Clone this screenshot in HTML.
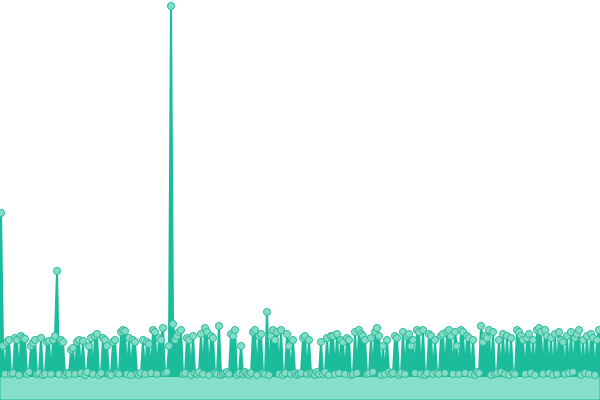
<!DOCTYPE html>
<html><head><meta charset="utf-8"><style>
html,body{margin:0;padding:0;background:#fff;width:600px;height:400px;overflow:hidden}
svg{display:block}
</style></head><body>
<svg id="chart" width="600" height="400" viewBox="0 0 600 400" xmlns="http://www.w3.org/2000/svg">
<g id="base"></g>
<g id="series"></g>
</svg>
<script>
const values = [
163,30,2,34,36,2,3,38,36,1,40,38,37,2,4,30,33,36,2,3,
38,1,2,34,35,2,36,40,105,2,36,34,1,3,2,26,28,2,34,36,
3,35,1,4,30,38,2,40,42,1,3,38,36,30,2,1,34,36,3,2,
44,46,45,2,38,1,36,34,2,1,3,36,2,34,32,3,46,44,2,38,
36,48,3,4,30,370,52,36,40,44,46,2,3,38,36,1,40,3,2,4,
42,2,48,44,1,40,38,3,2,50,1,2,3,4,2,42,40,46,1,3,
30,2,4,2,1,3,44,46,1,40,42,3,2,64,1,40,46,36,44,2,
46,1,3,42,30,2,36,3,1,2,3,38,40,2,36,3,2,1,4,2,
34,2,4,38,1,40,40,2,42,3,36,34,2,38,36,1,2,44,3,46,
42,40,36,2,3,38,4,44,48,40,1,30,2,36,4,2,3,40,38,1,
3,44,2,40,42,30,36,3,46,44,2,46,1,3,42,40,2,36,3,2,
40,42,3,44,46,40,2,44,30,2,46,44,3,40,38,2,36,1,4,3,
50,34,40,38,46,1,44,2,3,36,4,42,2,40,1,38,3,2,46,44,
40,36,2,38,42,3,36,1,46,48,44,2,46,40,3,38,1,42,2,44,
36,34,2,40,3,44,4,38,42,46,1,36,3,40,2,42,38,1,36,46];
const yMax = 370;
const NS = "http://www.w3.org/2000/svg";
const baseY = 376;
function xScale(i){ return 1 + i * (598 / (values.length - 1)); }
function yScale(v){ return baseY - v / yMax * (baseY - 6); }

const base = document.getElementById('base');
const br = document.createElementNS(NS,'path');
br.setAttribute('d','M0,'+baseY+' L600,'+baseY+' L600,400 L0,400 Z');
br.setAttribute('fill','#86dfc9');
br.setAttribute('stroke','#3cc4a2');
br.setAttribute('stroke-width','1.5');


base.appendChild(br);

const g = document.getElementById('series');
let d = 'M' + xScale(0) + ',' + baseY;
values.forEach((v,i)=>{ d += ' L' + xScale(i).toFixed(2) + ',' + yScale(v).toFixed(2); });
d += ' L' + xScale(values.length-1) + ',' + baseY + ' Z';
const area = document.createElementNS(NS,'path');
area.setAttribute('d', d);
area.setAttribute('fill','#1abc9c');
area.setAttribute('stroke','#1abc9c');
area.setAttribute('stroke-width','2');


g.appendChild(area);

values.forEach((v,i)=>{
  const c = document.createElementNS(NS,'circle');
  c.setAttribute('cx', xScale(i));
  c.setAttribute('cy', yScale(v));
  c.setAttribute('r', 3.5);
  c.setAttribute('fill','#84dcc6');
  c.setAttribute('stroke','#2fbf9e');
  c.setAttribute('stroke-width','1');
  
  
  g.appendChild(c);
});
</script>
</body></html>
